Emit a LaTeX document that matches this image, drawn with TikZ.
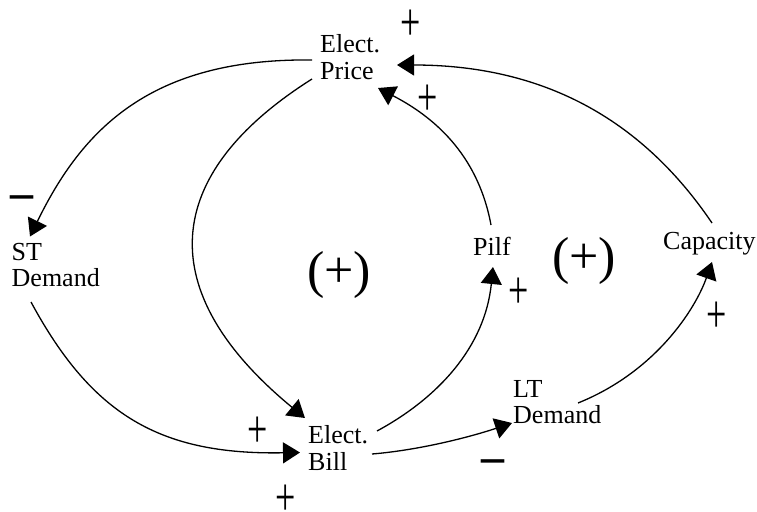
\documentclass[tikz,border=0pt]{standalone}
\usepackage{fontspec}
\setmainfont{Liberation Serif}
\usetikzlibrary{arrows.meta,calc}
\begin{document}
\begin{tikzpicture}[x=1pt,y=-1pt,
  var/.style={anchor=north west,inner sep=0pt,align=left,font=\fontsize{26}{26.5}\selectfont},
  plussign/.style={inner sep=0pt,font=\fontsize{36}{36}\selectfont},
  minussign/.style={anchor=base,inner sep=0pt,font=\fontsize{46}{46}\selectfont},
  loopsign/.style={inner sep=0pt,font=\fontsize{52}{52}\selectfont},
  link/.style={line width=1.3pt,-{Triangle[length=17pt,width=21pt]}}]
\useasboundingbox (0,0) rectangle (757,511);
% variables
\node[var] (price) at (320,34.5) {Elect.\\Price};
\node[var] (st) at (11.5,243) {ST\\Demand};
\node[var] (bill) at (308,425.5) {Elect.\\Bill};
\node[var] (pilf) at (473,237.2) {Pilf};
\node[var] (lt) at (513,380) {LT\\Demand};
\node[var] (cap) at (663,232.2) {Capacity};
% loop signs
\node[loopsign] (loopA) at (339,275) {(+)};
\node[loopsign] (loopB) at (584,261) {(+)};
% link polarities
\node[plussign] (s1) at (411,25) {\scalebox{1}[1.5]{+}};
\node[plussign] (s2) at (428,100.5) {\scalebox{1}[1.5]{+}};
\node[plussign] (s3) at (258,432.5) {\scalebox{1}[1.5]{+}};
\node[plussign] (s4) at (286,500.5) {\scalebox{1}[1.5]{+}};
\node[plussign] (s5) at (519,293) {\scalebox{1}[1.5]{+}};
\node[plussign] (s6) at (717,317.5) {\scalebox{1}[1.5]{+}};
\node[minussign] (m1) at (21.5,213.6) {\scalebox{1}[1.5]{–}};
\node[minussign] (m2) at (493,477.6) {\scalebox{1}[1.5]{–}};
% connectors
\draw[link] ($(price.north west)+(-8,25.5)$) .. controls (150,58) and (82,130) .. ($(st.north west)+(18.5,-6.5)$);
\draw[link] ($(st.north west)+(19.5,59)$) .. controls (92,415) and (160,455) .. ($(bill.north west)+(-8,27)$);
\draw[link] ($(price.north west)+(-8,44.5)$) .. controls (160,175) and (152,292) .. ($(bill.north west)+(-3,-7.5)$);
\draw[link] ($(bill.north west)+(69,5.5)$) .. controls (438,398) and (485,347) .. ($(pilf.north west)+(20,29.8)$);
\draw[link] ($(pilf.north west)+(18,-12.2)$) .. controls (479,160) and (440,120) .. ($(price.north west)+(58,53.5)$);
\draw[link] ($(bill.north west)+(64,28.5)$) .. controls (420,450) and (470,437) .. ($(lt.north west)+(-1,43)$);
\draw[link] ($(lt.north west)+(65,23)$) .. controls (655,372) and (695,310) .. ($(cap.north west)+(49,29.8)$);
\draw[link] ($(cap.north west)+(49,-9.2)$) .. controls (645,124) and (549,65) .. ($(price.north west)+(77,30.5)$);
\end{tikzpicture}
\end{document}
